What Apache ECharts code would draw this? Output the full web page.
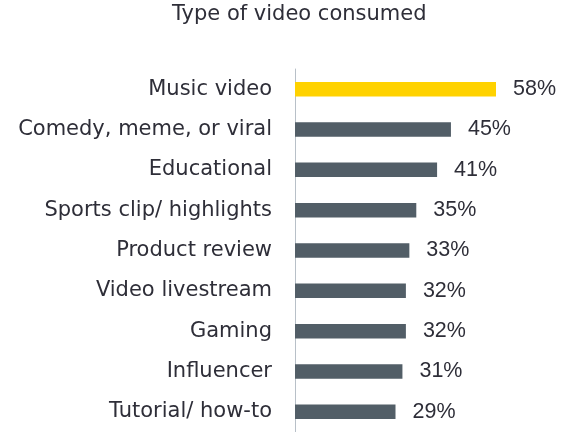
<!DOCTYPE html>
<html><head><meta charset="utf-8">
<script src="https://cdn.jsdelivr.net/npm/echarts@6/dist/echarts.min.js"></script>
<style>html,body{margin:0;padding:0;background:#fff}#c{width:567px;height:432px}</style>
</head><body><div id="c"></div>
<script>
const categories = ["Music video","Comedy, meme, or viral","Educational","Sports clip/ highlights","Product review","Video livestream","Gaming","Influencer","Tutorial/ how-to"];
const values = [58,45,41,35,33,32,32,31,29];
const highlightIndex = 0;
const chart = echarts.init(document.getElementById('c'));
const font = '"DejaVu Sans", sans-serif';
chart.setOption({
  animation:false,
  title:{text:'Type of video consumed',left:167,top:-1,textStyle:{fontFamily:font,fontSize:21,fontWeight:'normal',color:'#2e2e38'}},
  grid:{left:295,right:71,top:69,bottom:0},
  xAxis:{type:'value',min:0,max:58,show:false},
  yAxis:{type:'category',data:categories,inverse:true,
    axisLine:{show:true,lineStyle:{color:'#b8c0c8',width:1}},axisTick:{show:false},
    axisLabel:{margin:23,fontFamily:font,fontSize:21,color:'#2e2e38'}},
  series:[{type:'bar',barWidth:14.5,
    data:values.map((v,i)=>({value:v,itemStyle:{color:i===highlightIndex?'#FFD200':'#525e67'}})),
    label:{show:true,position:'right',distance:17,formatter:'{c}%',fontFamily:'"Liberation Sans", Arial, sans-serif',fontSize:21.5,color:'#2e2e38'}}]
});
</script></body></html>
